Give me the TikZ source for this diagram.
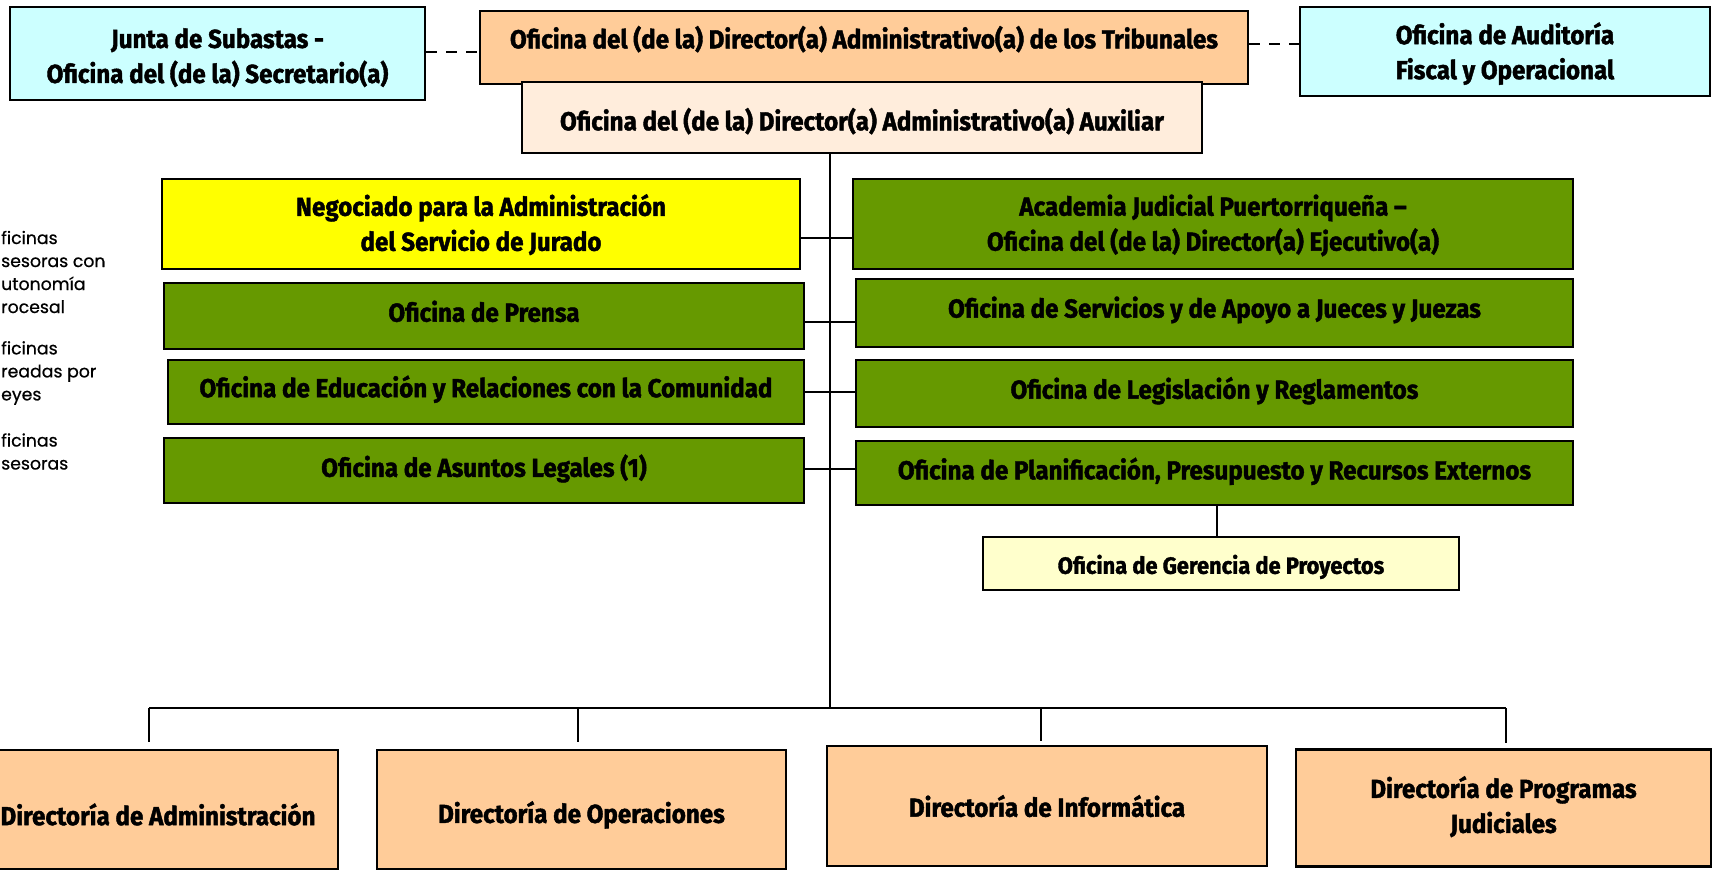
\documentclass[tikz,border=0pt]{standalone}
\usepackage{fontspec}
\setmainfont{Fira Sans}
\newfontfamily\cond{Fira Sans}[FakeStretch=0.93, FakeBold=1.6]
\newfontfamily\legfont{Poppins}[FakeBold=0.6]
\definecolor{cyanbox}{HTML}{CCFFFF}
\definecolor{peach}{HTML}{FFCC99}
\definecolor{lpeach}{HTML}{FFEDDC}
\definecolor{gbox}{HTML}{669900}
\definecolor{ybox}{HTML}{FFFF00}
\definecolor{lybox}{HTML}{FFFFCC}
\begin{document}
\begin{tikzpicture}[x=1pt,y=-1pt,
  box/.style={draw=black, line width=2.4pt, align=center, inner sep=0pt,
    font=\cond\bfseries\fontsize{26}{35}\selectfont, text=black},
  tc/.style={text height=#1, text depth=8pt},
  conn/.style={line width=1.8pt, draw=black},
  dashline/.style={line width=2pt, draw=black, dash pattern=on 11pt off 9pt},
  leg/.style={anchor=west, align=left, inner sep=0pt,
    font=\legfont\fontsize{17.3}{23}\selectfont}]
\useasboundingbox (0,0) rectangle (1719,872);
\clip (0,0) rectangle (1719,872);
\fill[white] (0,0) rectangle (1719,872);

% top row
\node[box, fill=cyanbox, minimum width=415pt, minimum height=93pt] (junta) at (217.5,53.5)
  {\rule{0pt}{28pt}Junta de Subastas -\\Oficina del (de la) Secretario(a)};
\node[box, fill=peach, minimum width=768pt, minimum height=73pt, tc=9.6pt] (dir) at (864,47.5)
  {Oficina del (de la) Director(a) Administrativo(a) de los Tribunales};
\node[box, fill=cyanbox, minimum width=410pt, minimum height=89pt] (audit) at (1505,51.5)
  {\rule{0pt}{26pt}Oficina de Auditoría\\Fiscal y Operacional};
\node[box, fill=lpeach, minimum width=680pt, minimum height=71pt, tc=33.6pt] (aux) at (862,117.5)
  {Oficina del (de la) Director(a) Administrativo(a) Auxiliar};

% middle boxes
\node[box, fill=ybox, minimum width=638pt, minimum height=90pt] (neg) at (481,224)
  {\rule{0pt}{23pt}Negociado para la Administración\\del Servicio de Jurado};
\node[box, fill=gbox, minimum width=720pt, minimum height=90pt] (acad) at (1213,224)
  {\rule{0pt}{24pt}Academia Judicial Puertorriqueña –\\Oficina del (de la) Director(a) Ejecutivo(a)};
\node[box, fill=gbox, minimum width=640pt, minimum height=66pt, tc=19.4pt] (prensa) at (484,316)
  {Oficina de Prensa};
\node[box, fill=gbox, minimum width=717pt, minimum height=68pt, tc=17.2pt] (serv) at (1214.5,313)
  {Oficina de Servicios y de Apoyo a Jueces y Juezas};
\node[box, fill=gbox, minimum width=636pt, minimum height=64pt, tc=18.4pt] (edu) at (486,392)
  {Oficina de Educación y Relaciones con la Comunidad};
\node[box, fill=gbox, minimum width=717pt, minimum height=67pt, tc=18.4pt] (legis) at (1214.5,393.5)
  {Oficina de Legislación y Reglamentos};
\node[box, fill=gbox, minimum width=640pt, minimum height=65pt, tc=20.6pt] (legal) at (484,470.5)
  {Oficina de Asuntos Legales (1)};
\node[box, fill=gbox, minimum width=717pt, minimum height=64pt, tc=20.6pt] (plan) at (1214.5,473)
  {Oficina de Planificación, Presupuesto y Recursos Externos};
\node[box, fill=lybox, minimum width=476pt, minimum height=53pt,
  font=\cond\bfseries\fontsize{23.5}{30}\selectfont, text height=27.6pt, text depth=7pt] (ger) at (1221,563.5)
  {Oficina de Gerencia de Proyectos};

% bottom boxes
\node[box, fill=peach, minimum width=360pt, minimum height=119pt, tc=39.2pt] (admin) at (158,809.5)
  {Directoría de Administración};
\node[box, fill=peach, minimum width=409pt, minimum height=119pt, tc=34.8pt] (oper) at (581.5,809.5)
  {Directoría de Operaciones};
\node[box, fill=peach, minimum width=440pt, minimum height=120pt, tc=29.4pt] (info) at (1047,806)
  {Directoría de Informática};
\node[box, fill=peach, minimum width=415pt, minimum height=117pt] (prog) at (1503.5,808)
  {Directoría de Programas\\Judiciales\rule[-7pt]{0pt}{1pt}};

% legend
\node[leg] (lg1) at (1,272) {ficinas\\sesoras con\\utonomía\\rocesal};
\node[leg] (lg2) at (1,373) {ficinas\\readas por\\eyes};
\node[leg] (lg3) at (1,451.5) {ficinas\\sesoras};

% coordinates
\coordinate (bus) at (830,708);
\coordinate (j1) at (830,238);
\coordinate (j2) at (830,322);
\coordinate (j3) at (830,392);
\coordinate (j4) at (830,469);
\coordinate (d1) at (149,708);
\coordinate (d2) at (578,708);
\coordinate (d3) at (1041,708);
\coordinate (d4) at (1506,708);
\coordinate (dl) at (0,52);
\coordinate (dr) at (0,44);

% connectors
\draw[dashline] (junta.east |- dl) -- (dir.west |- dl);
\draw[dashline] (dir.east |- dr) -- (audit.west |- dr);
\draw[conn] (aux.south -| bus) -- (bus);
\draw[conn] (neg.east |- j1) -- (acad.west |- j1);
\draw[conn] (prensa.east |- j2) -- (serv.west |- j2);
\draw[conn] (edu.east |- j3) -- (legis.west |- j3);
\draw[conn] (legal.east |- j4) -- (plan.west |- j4);
\draw[conn] ([xshift=-4pt]ger.north |- plan.south) -- ([xshift=-4pt]ger.north);
\draw[conn] (d1) -- (d4);
\draw[conn] (d1) -- ([yshift=7pt]admin.north -| d1);
\draw[conn] (d2) -- ([yshift=7pt]oper.north -| d2);
\draw[conn] (d3) -- ([yshift=4pt]info.north -| d3);
\draw[conn] (d4) -- ([yshift=5pt]prog.north -| d4);
\end{tikzpicture}
\end{document}
